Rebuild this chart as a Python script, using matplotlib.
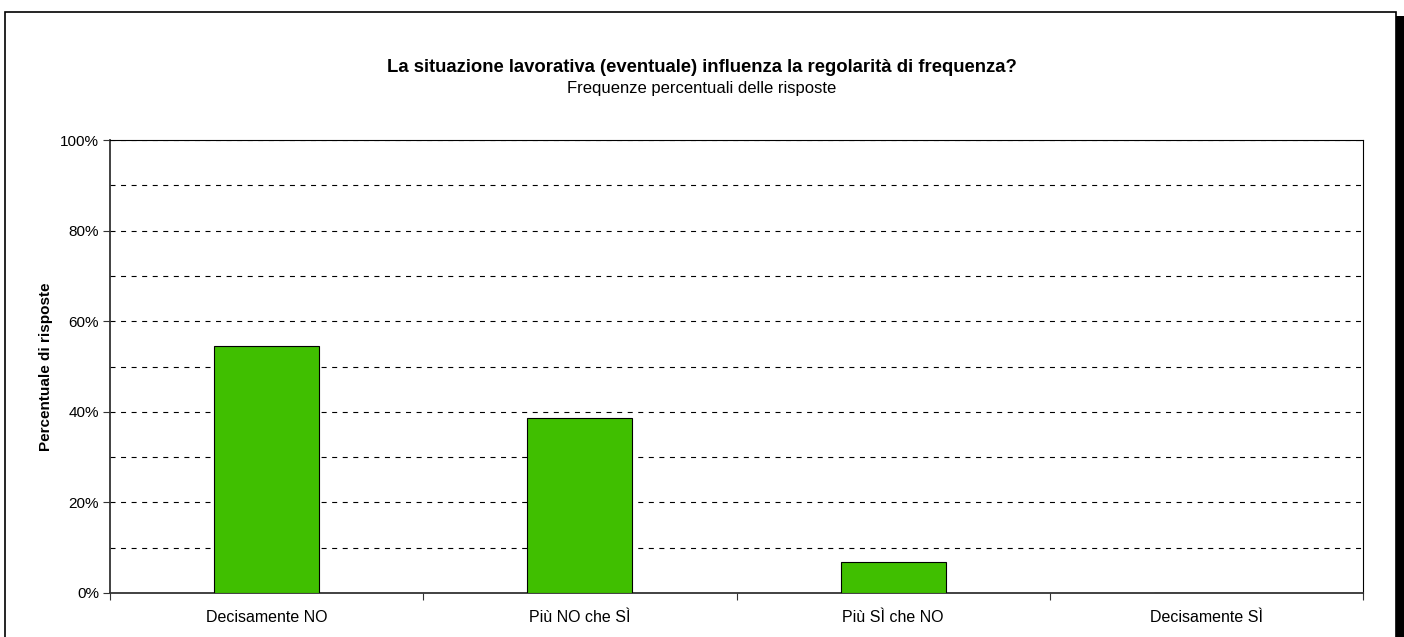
import numpy as np
import matplotlib.pyplot as plt
from matplotlib.patches import Rectangle

# risposte alla domanda (percentuali)
categorie = ['Decisamente NO', 'Più NO che SÌ', 'Più SÌ che NO', 'Decisamente SÌ']
percentuali = [54.5, 38.6, 6.8, 0.0]
y_ticks = [0, 20, 40, 60, 80, 100]
y_labels = ['0%', '20%', '40%', '60%', '80%', '100%']

plt.rcParams['font.family'] = ['Liberation Sans', 'DejaVu Sans']

W, H = 1404, 637
fig = plt.figure(figsize=(W / 100, H / 100), dpi=100)

# cornice del grafico con ombra
fig.patches.append(Rectangle((1396 / W, 0), 8 / W, (H - 16) / H, transform=fig.transFigure,
                             facecolor='black', edgecolor='none', zorder=-2))
fig.patches.append(Rectangle((5 / W, -0.05), 1391 / W, 1.05 - 12 / H, transform=fig.transFigure,
                             facecolor='white', edgecolor='black', linewidth=1.2, zorder=-1))

ax = fig.add_axes([110 / W, (H - 593) / H, (1363 - 110) / W, (593 - 140) / H])
x = np.arange(len(categorie))
ax.bar(x, percentuali, width=0.335, color='#40BF00', edgecolor='black', linewidth=0.8, zorder=3)

ax.set_xlim(-0.5, len(categorie) - 0.5)
ax.set_ylim(0, 100)

for g in range(10, 101, 10):
    ax.axhline(g, color='black', linewidth=0.8, linestyle=(0, (4.5, 5)), zorder=1)

ax.set_yticks(y_ticks)
ax.set_yticklabels(y_labels, fontsize=11)
ax.set_xticks(np.arange(len(categorie) + 1) - 0.5)
ax.set_xticklabels([])
ax.set_xticks(x, minor=True)
ax.set_xticklabels(categorie, minor=True, fontsize=11.5)
ax.tick_params(axis='x', which='minor', length=0, pad=12)
ax.tick_params(axis='x', which='major', length=5, width=0.8, color='#333333')
ax.tick_params(axis='y', length=5, width=0.8, color='#333333', pad=3)

for s in ['top', 'right']:
    ax.spines[s].set_linewidth(0.8)
    ax.spines[s].set_color('black')
for s in ['left', 'bottom']:
    ax.spines[s].set_linewidth(1.3)
    ax.spines[s].set_color('#333333')

ax.set_ylabel('Percentuale di risposte', fontsize=11, fontweight='bold', labelpad=5)

fig.text(0.5, 1 - 67 / H, 'La situazione lavorativa (eventuale) influenza la regolarità di frequenza?',
         ha='center', va='center', fontsize=13.3, fontweight='bold')
fig.text(0.5, 1 - 89 / H, 'Frequenze percentuali delle risposte', ha='center', va='center', fontsize=12)

fig.savefig('out.png', dpi=100)
